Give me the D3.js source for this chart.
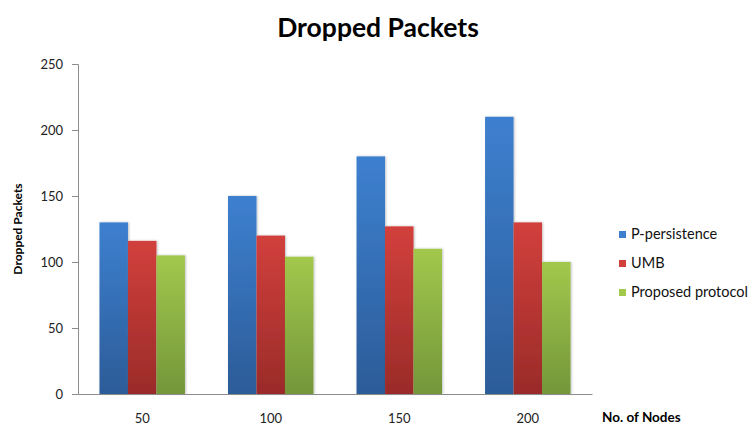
<!DOCTYPE html>
<html>
<head>
<meta charset="utf-8">
<script src="https://cdn.jsdelivr.net/npm/d3@7"></script>
<style>
  html, body { margin: 0; padding: 0; background: #fff; }
  svg { display: block; font-family: Lato, "Open Sans", sans-serif; }
</style>
</head>
<body>
<svg id="chart" width="756" height="425"></svg>
<script>
// Node counts on the x axis
const nodes = ["50", "100", "150", "200"];
// Series names
const seriesNames = ["P-persistence", "UMB", "Proposed protocol"];
// Dropped packets per series, one value per node count
const pPersistence = [130, 150, 180, 210];
const umb = [116, 120, 127, 130];
const proposed = [105, 104, 110, 100];
// Y axis ticks
const yTicks = [0, 50, 100, 150, 200, 250];

const seriesValues = [pPersistence, umb, proposed];
const colors = [
  { top: "#3d80d0", bottom: "#2c5c98" },
  { top: "#d2403c", bottom: "#9a2b29" },
  { top: "#a2c84c", bottom: "#74963a" }
];

const svg = d3.select("#chart");
const margin = { left: 78, right: 164, top: 64, bottom: 31 };
const W = 756, H = 425;

const x = d3.scaleBand().domain(nodes)
  .range([margin.left, W - margin.right])
  .paddingInner(0.335).paddingOuter(0.167);
const xs = d3.scaleBand().domain(d3.range(seriesNames.length))
  .range([0, x.bandwidth()]);
const y = d3.scaleLinear().domain([0, 250]).range([H - margin.bottom, margin.top]);

// Gradients for bars
const defs = svg.append("defs");
colors.forEach((c, i) => {
  const g = defs.append("linearGradient").attr("id", "grad" + i)
    .attr("x1", 0).attr("y1", 0).attr("x2", 0).attr("y2", 1);
  g.append("stop").attr("offset", "0%").attr("stop-color", c.top);
  g.append("stop").attr("offset", "100%").attr("stop-color", c.bottom);
});
const shadow = defs.append("filter").attr("id", "shadow")
  .attr("x", "-20%").attr("y", "-5%").attr("width", "140%").attr("height", "110%");
shadow.append("feDropShadow").attr("dx", 1).attr("dy", 0).attr("stdDeviation", 1)
  .attr("flood-color", "#000").attr("flood-opacity", 0.25);

// Title
svg.append("text").attr("x", 378).attr("y", 37)
  .attr("text-anchor", "middle").attr("font-size", 26.5).attr("font-weight", "bold")
  .attr("fill", "#000").text("Dropped Packets");

// Bars
const groups = svg.append("g").selectAll("g").data(nodes).join("g")
  .attr("transform", d => `translate(${x(d)},0)`);
groups.selectAll("rect")
  .data((d, i) => seriesValues.map((s, k) => ({ k, v: s[i] })))
  .join("rect")
  .attr("x", d => xs(d.k))
  .attr("width", xs.bandwidth())
  .attr("y", d => y(d.v))
  .attr("height", d => y(0) - y(d.v))
  .attr("fill", d => `url(#grad${d.k})`)
  .attr("filter", "url(#shadow)");

// Y axis
const yAxis = svg.append("g").attr("transform", `translate(${margin.left},0)`)
  .call(d3.axisLeft(y).tickValues(yTicks).tickSize(6).tickPadding(9));
yAxis.select(".domain").attr("stroke", "#8c8c8c");
yAxis.selectAll(".tick line").attr("stroke", "#8c8c8c");
yAxis.selectAll(".tick text").attr("font-size", 13).attr("fill", "#222")
  .attr("font-family", "Lato, sans-serif");

// X axis
const xAxis = svg.append("g").attr("transform", `translate(0,${y(0)})`)
  .call(d3.axisBottom(x).tickSize(0).tickPadding(20));
xAxis.select(".domain").attr("stroke", "#8c8c8c");
xAxis.selectAll(".tick text").attr("font-size", 13).attr("fill", "#222")
  .attr("font-family", "Lato, sans-serif");

// Axis titles
svg.append("text")
  .attr("transform", `translate(22,${(y(0) + y(250)) / 2}) rotate(-90)`)
  .attr("text-anchor", "middle").attr("font-size", 12).attr("font-weight", "bold")
  .attr("fill", "#000").text("Dropped Packets");
svg.append("text").attr("x", 602).attr("y", 422)
  .attr("font-size", 13.5).attr("font-weight", "bold").attr("fill", "#000")
  .text("No. of Nodes");

// Legend
const legend = svg.append("g").selectAll("g").data(seriesNames).join("g")
  .attr("transform", (d, i) => `translate(619,${239 + i * 29})`);
legend.append("rect").attr("x", 0).attr("y", -8).attr("width", 7).attr("height", 7)
  .attr("fill", (d, i) => colors[i].top);
legend.append("text").attr("x", 12).attr("y", 0)
  .attr("font-size", 14.5).attr("fill", "#111").text(d => d);
</script>
</body>
</html>
